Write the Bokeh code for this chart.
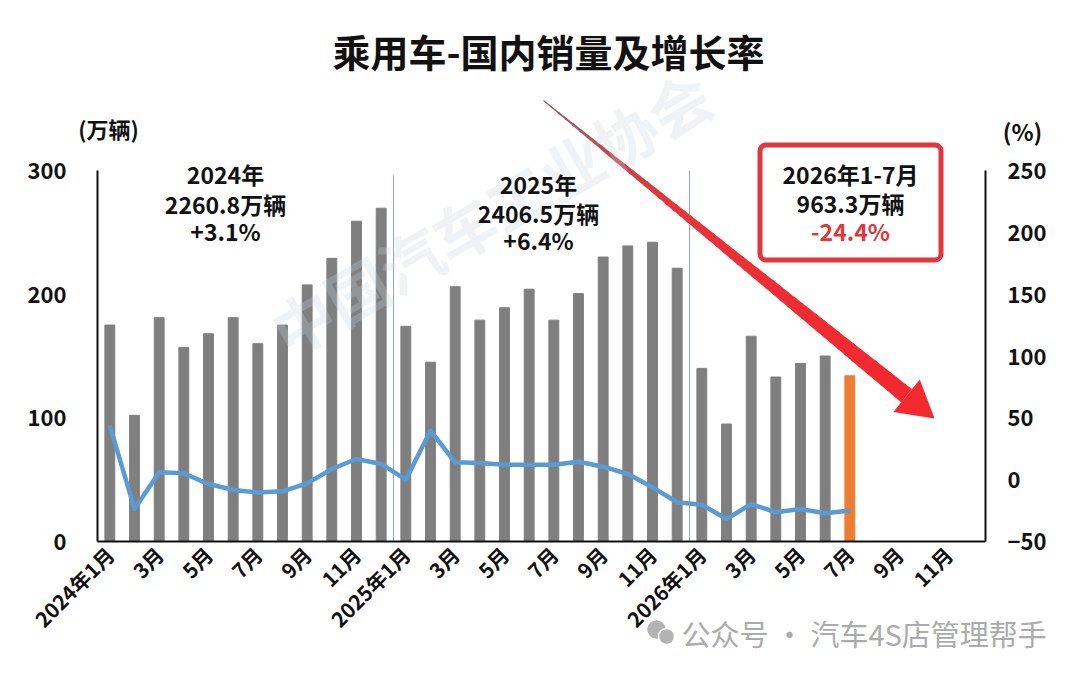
import math
from bokeh.plotting import figure
from bokeh.models import Range1d, LinearAxis, FixedTicker, Label, BoxAnnotation, ColumnDataSource
from bokeh.embed import file_html
from bokeh.resources import INLINE

# ---------------- data ----------------
sales_2024 = [175, 102, 181, 157, 168, 181, 160, 175, 207.5, 229, 259, 269.5]
sales_2025 = [174, 145, 206, 179, 189, 204, 179, 200.5, 230, 239, 242, 221]
sales_2026 = [140, 95, 166, 133, 144, 150, 134]

growth_2024 = [43.7, -23.7, 5.9, 5.1, -3.5, -8.3, -10.3, -9.4, -3.0, 8.6, 16.7, 12.7]
growth_2025 = [0.0, 39.6, 14.0, 13.5, 12.1, 12.0, 12.0, 14.5, 10.5, 4.6, -6.2, -18.3]
growth_2026 = [-20.2, -31.8, -19.7, -26.4, -23.7, -27.2, -25.0]

month_labels = ["2024年1月", "", "3月", "", "5月", "", "7月", "", "9月", "", "11月", "",
                "2025年1月", "", "3月", "", "5月", "", "7月", "", "9月", "", "11月", "",
                "2026年1月", "", "3月", "", "5月", "", "7月", "", "9月", "", "11月", ""]

left_ticks = [0, 100, 200, 300]
right_ticks = [-50, 0, 50, 100, 150, 200, 250]

title_text = "乘用车-国内销量及增长率"
block_2024 = ["2024年", "2260.8万辆", "+3.1%"]
block_2025 = ["2025年", "2406.5万辆", "+6.4%"]
block_2026 = ["2026年1-7月", "963.3万辆", "-24.4%"]
footer_text = "公众号 · 汽车4S店管理帮手"

# ---------------- layout constants (pixels) ----------------
FONT = "Noto Sans CJK SC"
W, H = 1080, 676
AX_L, AX_R = 97, 985      # pixel x of left / right value axes
AX_B = 541                # pixel y of category axis (value 0)
Y_SCALE = 371 / 300.0     # px per unit on both y axes
N = len(month_labels)
X_SCALE = (AX_R - AX_L) / N


def sx(px):
    return (px - AX_L) / X_SCALE - 0.5


def sy(py):
    return (AX_B - py) / Y_SCALE


sales = sales_2024 + sales_2025 + sales_2026
growth = growth_2024 + growth_2025 + growth_2026
xs = list(range(len(sales)))
colors = ["#7f7f7f"] * (len(sales) - 1) + ["#ed7d31"]

p = figure(width=W, height=H, output_backend="svg", toolbar_location=None,
           x_range=Range1d(sx(0), sx(W)), y_range=Range1d(sy(H), sy(0)),
           min_border=0, x_axis_location=None, y_axis_location=None)
p.outline_line_color = None
p.xgrid.visible = False
p.ygrid.visible = False
p.background_fill_color = "white"
p.border_fill_color = "white"
p.extra_y_ranges = {"pct": Range1d(sy(H) - 50, sy(0) - 50)}

# axes (drawn at fixed positions inside the frame)
xaxis = LinearAxis(ticker=FixedTicker(ticks=[i for i, t in enumerate(month_labels) if t]),
                   major_label_overrides={i: t for i, t in enumerate(month_labels) if t},
                   bounds=(-0.5, N - 0.5), fixed_location=0)
xaxis.major_label_orientation = math.pi / 4
xaxis.major_label_text_font = FONT
xaxis.major_label_text_font_style = "bold"
xaxis.major_label_text_font_size = "20.5px"
xaxis.major_label_text_color = "#111111"
xaxis.major_label_standoff = 9
p.add_layout(xaxis, "below")

laxis = LinearAxis(ticker=FixedTicker(ticks=left_ticks), bounds=(0, 300), fixed_location=-0.5)
raxis = LinearAxis(ticker=FixedTicker(ticks=right_ticks), bounds=(-50, 250), y_range_name="pct",
                   fixed_location=N - 0.5)
for ax in (laxis, raxis):
    ax.major_label_text_font = FONT
    ax.major_label_text_font_style = "bold"
    ax.major_label_text_font_size = "22px"
    ax.major_label_text_color = "#111111"
for ax in (xaxis, laxis, raxis):
    ax.major_tick_out = 0
    ax.major_tick_in = 0
    ax.minor_tick_out = 0
    ax.minor_tick_in = 0
    ax.axis_line_color = "#111111"
    ax.axis_line_width = 2
laxis.major_label_standoff = 31
raxis.major_label_standoff = 22
p.add_layout(laxis, "left")
p.add_layout(raxis, "right")

# separators between years
sep_x = [len(sales_2024) - 0.5, len(sales_2024) + len(sales_2025) - 0.5]
p.segment(x0=sep_x, y0=[0, 0], x1=sep_x, y1=[296, 300], line_color="#9aa3ad", line_width=1)

# watermark (faint)
p.add_layout(Label(x=sx(275), y=sy(335), text="中国汽车工业协会", angle=math.radians(30),
                   text_font=FONT, text_font_style="bold", text_font_size="62px",
                   text_color="#c9d3e0", text_alpha=0.28, text_baseline="middle"))

# bars
src = ColumnDataSource(dict(x=xs, top=sales, color=colors))
p.vbar(x="x", top="top", width=0.4, color="color", source=src)

# growth line
p.line(xs, growth, y_range_name="pct", line_color="#5b9bd5", line_width=4.5, line_join="round")

# red box
p.add_layout(BoxAnnotation(left=sx(759.5), right=sx(940.5), top=sy(144.5), bottom=sy(259.5),
                           fill_color=None, fill_alpha=0, line_color="#e0363c", line_alpha=1,
                           line_width=5, border_radius=6))


def lab(px, py, text, size, color="#111111", style="bold", align="center"):
    p.add_layout(Label(x=sx(px), y=sy(py), text=text, text_font=FONT, text_font_style=style,
                       text_font_size=size, text_color=color, text_align=align,
                       text_baseline="middle"))


# title & unit labels
lab(548, 50, title_text, "38px")
lab(108, 127, "(万辆)", "22px")
lab(1022, 130, "(%)", "23px")

# year blocks
for t, yy in zip(block_2024, [173, 203, 230]):
    lab(225, yy, t, "23px")
for t, yy in zip(block_2025, [183, 212, 239]):
    lab(538, yy, t, "23px")
for t, yy, c in zip(block_2026, [173, 202, 230], ["#111111", "#111111", "#e0363c"]):
    lab(850, yy, t, "23px", color=c)

# gradient arrow
P0 = (543.0, 100.0)
TIP = (934.0, 418.0)
dx, dy = TIP[0] - P0[0], TIP[1] - P0[1]
L = math.hypot(dx, dy)
ux, uy = dx / L, dy / L
nx, ny = -uy, ux
head_len = 36.0
head_half = 21.0
shaft_len = L - head_len
nseg = 50


def shaft_color(t):
    stops = [(0.0, (150, 95, 100)), (0.35, (232, 52, 58)), (1.0, (242, 40, 46))]
    for (ta, ca), (tb, cb) in zip(stops[:-1], stops[1:]):
        if t <= tb:
            f = (t - ta) / (tb - ta)
            return "#%02x%02x%02x" % tuple(int(ca[k] + (cb[k] - ca[k]) * f) for k in range(3))
    return "#%02x%02x%02x" % stops[-1][1]


qxs, qys, qcs = [], [], []
for i in range(nseg):
    t0, t1 = i / nseg, (i + 1) / nseg
    w0, w1 = 0.5 + 8.0 * t0, 0.5 + 8.0 * t1
    t1e = min(t1 + 0.005, 1.0)
    a = (P0[0] + ux * shaft_len * t0, P0[1] + uy * shaft_len * t0)
    b = (P0[0] + ux * shaft_len * t1e, P0[1] + uy * shaft_len * t1e)
    pts = [(a[0] + nx * w0, a[1] + ny * w0), (b[0] + nx * w1, b[1] + ny * w1),
           (b[0] - nx * w1, b[1] - ny * w1), (a[0] - nx * w0, a[1] - ny * w0)]
    qxs.append([sx(q[0]) for q in pts])
    qys.append([sy(q[1]) for q in pts])
    qcs.append(shaft_color((t0 + t1) / 2))
p.patches(qxs, qys, fill_color=qcs, line_color=None)
B = (P0[0] + ux * shaft_len, P0[1] + uy * shaft_len)
head = [(B[0] + nx * head_half, B[1] + ny * head_half), TIP, (B[0] - nx * head_half, B[1] - ny * head_half)]
p.patch([sx(q[0]) for q in head], [sy(q[1]) for q in head], fill_color="#f22a30", line_color=None)

# footer: wechat-style icon + text
p.scatter(x=[sx(656), sx(666)], y=[sy(629), sy(636)], size=[20, 16], marker="circle",
          fill_color="#b3b3b3", line_color="white", line_width=1.5)
lab(681, 632, footer_text, "29px", color="#ababab", style="normal", align="left")

open("out.html", "w").write(file_html(p, INLINE))
